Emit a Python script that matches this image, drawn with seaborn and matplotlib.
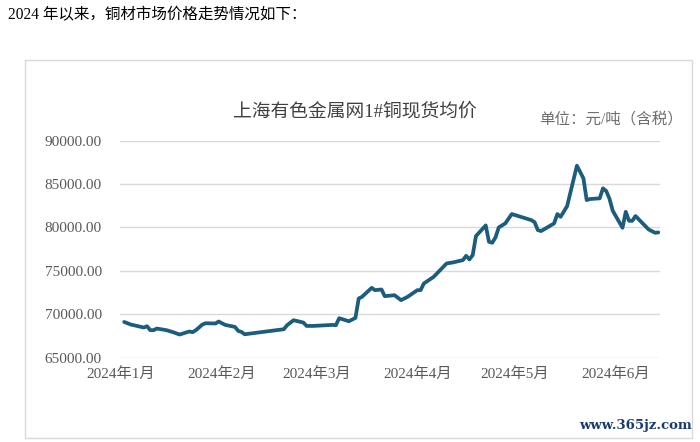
import matplotlib
matplotlib.use("Agg")
import matplotlib.pyplot as plt
import seaborn as sns
import pandas as pd
from matplotlib.patches import Rectangle

# 上海有色金属网1#铜现货均价（元/吨，含税）
dates = ["2024-01-02", "2024-01-04", "2024-01-05", "2024-01-08", "2024-01-09",
         "2024-01-10", "2024-01-11", "2024-01-12", "2024-01-15", "2024-01-17",
         "2024-01-19", "2024-01-22", "2024-01-23", "2024-01-24", "2024-01-26",
         "2024-01-27", "2024-01-30", "2024-01-31", "2024-02-02", "2024-02-05",
         "2024-02-06", "2024-02-07", "2024-02-08", "2024-02-20", "2024-02-21",
         "2024-02-23", "2024-02-26", "2024-02-27", "2024-02-29", "2024-03-06",
         "2024-03-07", "2024-03-08", "2024-03-11", "2024-03-13", "2024-03-14",
         "2024-03-15", "2024-03-18", "2024-03-19", "2024-03-21", "2024-03-22",
         "2024-03-25", "2024-03-27", "2024-03-29", "2024-04-01", "2024-04-02",
         "2024-04-03", "2024-04-06", "2024-04-10", "2024-04-12", "2024-04-15",
         "2024-04-16", "2024-04-17", "2024-04-18", "2024-04-19", "2024-04-22",
         "2024-04-23", "2024-04-24", "2024-04-25", "2024-04-26", "2024-04-28",
         "2024-04-30", "2024-05-06", "2024-05-07", "2024-05-08", "2024-05-09",
         "2024-05-13", "2024-05-14", "2024-05-15", "2024-05-17", "2024-05-20",
         "2024-05-22", "2024-05-23", "2024-05-24", "2024-05-27", "2024-05-28",
         "2024-05-29", "2024-05-30", "2024-05-31", "2024-06-03", "2024-06-04",
         "2024-06-05", "2024-06-06", "2024-06-07", "2024-06-11", "2024-06-13",
         "2024-06-14"]
prices = [69120, 68820, 68740, 68480, 68630,
          68170, 68170, 68360, 68170, 67940,
          67670, 68020, 67940, 68170, 68820,
          68970, 68940, 69170, 68780, 68550,
          68090, 67970, 67700, 68280, 68740,
          69320, 69050, 68660, 68660, 68780,
          68740, 69550, 69200, 69590, 71820,
          72010, 73050, 72780, 72860, 72090,
          72200, 71630, 72010, 72780, 72780,
          73550, 74310, 75860, 75980, 76240,
          76740, 76320, 76820, 79010, 80240,
          78350, 78240, 78860, 80010, 80470,
          81550, 80850, 80620, 79700, 79590,
          80470, 81550, 81230, 82470, 87120,
          85660, 83160, 83280, 83360, 84510,
          84200, 83310, 81930, 79970, 81810,
          80770, 80770, 81320, 79780, 79390,
          79430]

month_ticks = ["2024-01-01", "2024-02-01", "2024-03-01", "2024-04-01", "2024-05-01", "2024-06-01"]
month_labels = ["2024年1月", "2024年2月", "2024年3月", "2024年4月", "2024年5月", "2024年6月"]
y_ticks = [65000, 70000, 75000, 80000, 85000, 90000]

df = pd.DataFrame({"date": pd.to_datetime(dates), "price": prices})

sns.set_theme(style="white")
plt.rcParams["font.family"] = ["Liberation Serif", "Noto Sans CJK SC", "DejaVu Sans"]

fig = plt.figure(figsize=(7, 4.42), dpi=100)
ax = fig.add_axes([0.1714, 0.1907, 0.7714, 0.491])

sns.lineplot(data=df, x="date", y="price", ax=ax, color="#1c5c7c", linewidth=2.7)
for l in ax.lines:
    l.set_solid_joinstyle("round")
    l.set_solid_capstyle("round")

ax.set_xlim(pd.Timestamp("2024-01-02") - pd.Timedelta(days=1.3),
            pd.Timestamp("2024-06-14") + pd.Timedelta(days=0.5))
ax.set_ylim(65000, 90000)
ax.set_yticks(y_ticks)
ax.set_yticklabels([f"{v:.2f}" for v in y_ticks])
ax.set_xticks(pd.to_datetime(month_ticks))
ax.set_xticklabels(month_labels)
ax.tick_params(axis="y", length=0, pad=13, labelsize=11, labelcolor="#595959")
ax.tick_params(axis="x", length=0, pad=7, labelsize=11, labelcolor="#595959")
ax.grid(axis="y", color="#d9d9d9", linewidth=1)
ax.grid(axis="x", visible=False)
for s in ax.spines.values():
    s.set_visible(False)
ax.set_xlabel("")
ax.set_ylabel("")

# 图表外框
fig.patches.append(Rectangle((0.0357, 0.009), 0.9529, 0.855, transform=fig.transFigure,
                             fill=False, edgecolor="#d9d9d9", linewidth=1))

fig.text(0.011, 0.966, "2024 年以来，铜材市场价格走势情况如下：", fontsize=11.2,
         color="black", va="center", ha="left")
fig.text(0.507, 0.747, "上海有色金属网1#铜现货均价", fontsize=13.5,
         color="#404040", va="center", ha="center")
fig.text(0.975, 0.729, "单位：元/吨（含税）", fontsize=11.2,
         color="#6e6e6e", va="center", ha="right")
fig.text(0.988, 0.038, "www.365jz.com", fontsize=9.5, color="#1b3b6f",
         fontweight="bold", family=["DejaVu Serif"], va="center", ha="right")

fig.savefig("out.png", dpi=100)
